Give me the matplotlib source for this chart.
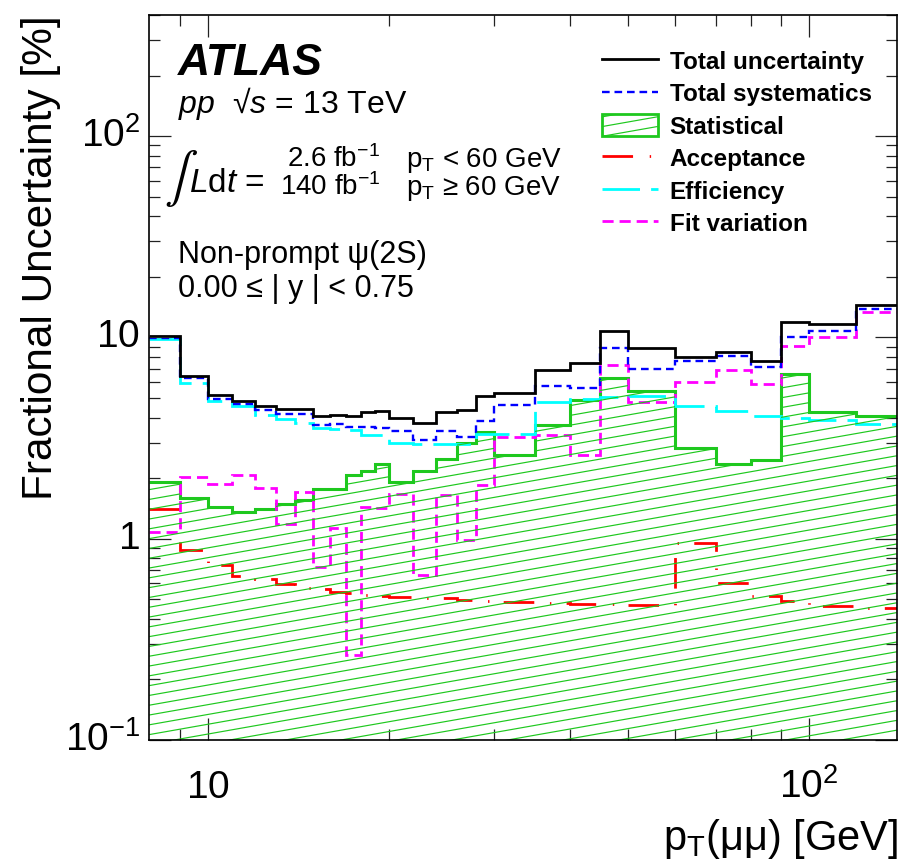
import numpy as np
import matplotlib
matplotlib.use("Agg")
import matplotlib.pyplot as plt
import matplotlib.ticker as mticker
from matplotlib.collections import LineCollection
from matplotlib.legend_handler import HandlerBase
from matplotlib.patches import Rectangle
from matplotlib.lines import Line2D

plt.rcParams['font.family'] = ['Liberation Sans', 'DejaVu Sans']
plt.rcParams['mathtext.fontset'] = 'custom'
plt.rcParams['mathtext.rm'] = 'Liberation Sans'
plt.rcParams['mathtext.it'] = 'Liberation Sans:italic'
plt.rcParams['mathtext.bf'] = 'Liberation Sans:bold'
plt.rcParams['lines.scale_dashes'] = False

# ---------------- data ----------------
edges = [8, 9, 10, 11, 12, 13, 14, 15, 16, 17, 18, 19, 20, 22, 24, 26, 28, 30,
         35, 40, 45, 50, 60, 70, 80, 90, 100, 120, 140]
total = [10.2, 6.45, 5.15, 4.85, 4.55, 4.43, 4.43, 4.05, 4.13, 4.05, 4.24, 4.29,
         3.98, 3.76, 4.24, 4.38, 5.13, 5.3, 6.9, 7.46, 10.8, 8.85, 8.04, 8.46,
         7.6, 11.9, 11.6, 14.5]
syst = [9.92, 6.28, 4.96, 4.69, 4.34, 4.17, 4.17, 3.66, 3.73, 3.61, 3.61, 3.55,
        3.44, 3.11, 3.42, 3.19, 3.83, 4.6, 5.77, 5.64, 8.85, 6.99, 7.6, 8.1,
        7.17, 10.0, 10.8, 13.9]
stat = [1.92, 1.6, 1.43, 1.36, 1.41, 1.48, 1.55, 1.76, 1.76, 2.07, 2.16, 2.34,
        1.92, 2.16, 2.49, 2.99, 3.39, 2.6, 3.69, 4.9, 6.28, 5.45, 2.83, 2.35,
        2.47, 6.6, 4.26, 4.09]
acceptance = [1.41, 0.875, 0.737, 0.652, 0.628, 0.593, 0.571, 0.565, 0.546,
              0.535, 0.527, 0.52, 0.515, 0.51, 0.506, 0.496, 0.49, 0.485, 0.482,
              0.472, 0.472, 0.467, 0.955, 0.60, 0.52, 0.49, 0.463, 0.455]
efficiency = [9.85, 5.94, 4.81, 4.58, 4.13, 3.95, 3.76, 3.55, 3.51, 3.46, 3.29,
              3.29, 2.99, 2.97, 2.97, 2.97, 3.32, 3.32, 4.76, 4.96, 5.06, 5.09,
              4.55, 4.29, 4.05, 3.98, 3.9, 3.73]
fitvar = [1.08, 2.02, 1.86, 2.08, 1.79, 1.19, 1.70, 0.726, 1.125, 0.264, 1.44,
          1.42, 1.67, 0.66, 1.64, 0.99, 1.84, 3.19, 3.29, 2.6, 7.31, 4.78, 5.98,
          6.86, 5.87, 9.12, 10.0, 13.35]

labels = ["Total uncertainty", "Total systematics", "Statistical",
          "Acceptance", "Efficiency", "Fit variation"]
xtick_vals = [10, 100]
xtick_labels = [r"$\mathregular{10}$", r"$\mathregular{10^{2}}$"]
xminor_vals = [9, 20, 30, 40, 50, 60, 70, 80, 90]
ytick_vals = [0.1, 1, 10, 100]
ytick_labels = [r"$\mathregular{10^{-1}}$", r"$\mathregular{1}$",
                r"$\mathregular{10}$", r"$\mathregular{10^{2}}$"]

# ---------------- style ----------------
GREEN = '#1ec81e'
LS_SYST = (0, (5.5, 3.5))
LS_ACC = (0, (22, 12, 1, 11))
LS_EFF = (0, (27, 8))
LS_FIT = (0, (8, 4.3))
W_PX, H_PX = 902, 864
def fx(px):
    return px / W_PX
def fy(py):
    return 1 - py / H_PX

fig = plt.figure(figsize=(9.02, 8.64), dpi=100)
ax = fig.add_axes([fx(149.3), fy(740), (896.7 - 149.3) / W_PX, (740 - 15) / H_PX])
ax.set_xscale('log')
ax.set_yscale('log')
ax.set_xlim(8, 140)
ax.set_ylim(0.1, 400)

# statistical: hatched fill
stat_patch = ax.stairs(stat, edges, baseline=0.1, fill=True,
                       facecolor='none', edgecolor='none', linewidth=0)
ax_w = 896.7 - 149.3
ax_h = 725.0
slope_ax = np.tan(np.radians(10)) * ax_w / ax_h
spacing_ax = 9.8 / ax_h
segs = [[(0, c), (1, c + slope_ax)] for c in np.arange(-slope_ax, 1.0, spacing_ax)]
lc = LineCollection(segs, colors=GREEN, linewidths=0.85, transform=ax.transAxes)
ax.add_collection(lc, autolim=False)
lc.set_clip_path(stat_patch)
lc.set_clip_box(ax.bbox)
ax.stairs(stat, edges, baseline=None, color=GREEN, linewidth=2.2)

ax.stairs(acceptance, edges, baseline=None, color='#ff0000', linewidth=2.0,
          linestyle=LS_ACC)
ax.stairs(fitvar, edges, baseline=None, color='#ff00ff', linewidth=2.0,
          linestyle=LS_FIT)
ax.stairs(efficiency, edges, baseline=None, color='#00ffff', linewidth=2.0,
          linestyle=LS_EFF)
ax.stairs(syst, edges, baseline=None, color='#0000ff', linewidth=1.7,
          linestyle=LS_SYST)
ax.stairs(total, edges, baseline=None, color='black', linewidth=2.0)

# ---------------- axes ----------------
ax.set_xticks(xtick_vals)
ax.set_xticks(xminor_vals, minor=True)
ax.set_yticks(ytick_vals)
ax.yaxis.set_minor_locator(mticker.LogLocator(base=10, subs=np.arange(2, 10), numticks=30))
ax.tick_params(which='both', direction='in', top=True, right=True,
               labelbottom=False, labelleft=False, width=0.9, color='#222222')
ax.tick_params(which='major', length=16)
ax.tick_params(which='minor', length=8)
for sp in ax.spines.values():
    sp.set_linewidth(1.2)

for v, lab in zip(xtick_vals, xtick_labels):
    ax.annotate(lab, xy=(v, 0), xycoords=('data', 'axes fraction'),
                xytext=(0, -58 / 1.389), textcoords='offset points',
                ha='center', va='baseline', fontsize=28, annotation_clip=False)
for v, lab in zip(ytick_vals, ytick_labels):
    ax.annotate(lab, xy=(0, v), xycoords=('axes fraction', 'data'),
                xytext=(-9.3 / 1.389, 0), textcoords='offset points',
                ha='right', va='center', fontsize=28, annotation_clip=False)

fig.text(fx(41), fy(15), "Fractional Uncertainty [%]", rotation=90,
         ha='center', va='top', fontsize=30.5)
fig.text(fx(898), fy(850), r"p$_{\mathrm{T}}$(μμ) [GeV]", ha='right',
         va='baseline', fontsize=30)

# ---------------- legend ----------------
class HatchBoxHandler(HandlerBase):
    def create_artists(self, legend, orig_handle, xdescent, ydescent,
                       width, height, fontsize, trans):
        x0, y0 = -xdescent, -ydescent
        rect = Rectangle((x0, y0), width, height, facecolor='none',
                         edgecolor=GREEN, linewidth=2.0, transform=trans)
        slope = np.tan(np.radians(10))
        step = 7.0
        hs = []
        for c in np.arange(y0 - slope * width, y0 + height, step):
            xa = max(x0, x0 + (y0 - c) / slope)
            xb = min(x0 + width, x0 + (y0 + height - c) / slope)
            if xb > xa:
                hs.append([(xa, c + slope * (xa - x0)), (xb, c + slope * (xb - x0))])
        hl = LineCollection(hs, colors=GREEN, linewidths=0.85, transform=trans)
        return [hl, rect]

handles = [
    Line2D([], [], color='black', linewidth=2.0),
    Line2D([], [], color='#0000ff', linewidth=1.7, linestyle=LS_SYST),
    Rectangle((0, 0), 1, 1),
    Line2D([], [], color='#ff0000', linewidth=2.0, linestyle=LS_ACC),
    Line2D([], [], color='#00ffff', linewidth=2.0, linestyle=LS_EFF),
    Line2D([], [], color='#ff00ff', linewidth=2.0, linestyle=LS_FIT),
]
ax.legend(handles, labels, handler_map={Rectangle: HatchBoxHandler()},
          loc='upper left', bbox_to_anchor=(fx(601.7), fy(49.5)),
          bbox_transform=fig.transFigure, frameon=False, borderpad=0,
          borderaxespad=0, handlelength=2.31, handleheight=1.0,
          handletextpad=0.49, labelspacing=0.34,
          prop={'size': 17.5, 'weight': 'bold'})

# ---------------- annotations ----------------
fig.text(fx(178), fy(75), "ATLAS", fontsize=32, fontweight='bold',
         fontstyle='italic', va='baseline')
fig.text(fx(178), fy(113), r"$\it{pp}$  √$\it{s}$ = 13 TeV", fontsize=23,
         va='baseline')
fig.text(fx(164), fy(191), "∫", fontsize=36, va='baseline',
         family=['STIXGeneral', 'DejaVu Sans'])
fig.text(fx(189), fy(192), r"$\it{L}$d$\it{t}$ =", fontsize=24, va='baseline')
fig.text(fx(333), fy(167), r"2.6 fb$^{\mathrm{-1}}$", fontsize=20,
         ha='center', va='baseline')
fig.text(fx(330), fy(195), r"140 fb$^{\mathrm{-1}}$", fontsize=20,
         ha='center', va='baseline')
fig.text(fx(406), fy(167), r"p$_{\mathrm{T}}$ < 60 GeV", fontsize=20,
         va='baseline')
fig.text(fx(406), fy(195), r"p$_{\mathrm{T}}$ ≥ 60 GeV", fontsize=20,
         va='baseline')
fig.text(fx(178), fy(263), "Non-prompt ψ(2S)", fontsize=22, va='baseline')
fig.text(fx(178), fy(297), "0.00 ≤ | y | < 0.75", fontsize=22, va='baseline')

fig.savefig("out.png", dpi=100)
